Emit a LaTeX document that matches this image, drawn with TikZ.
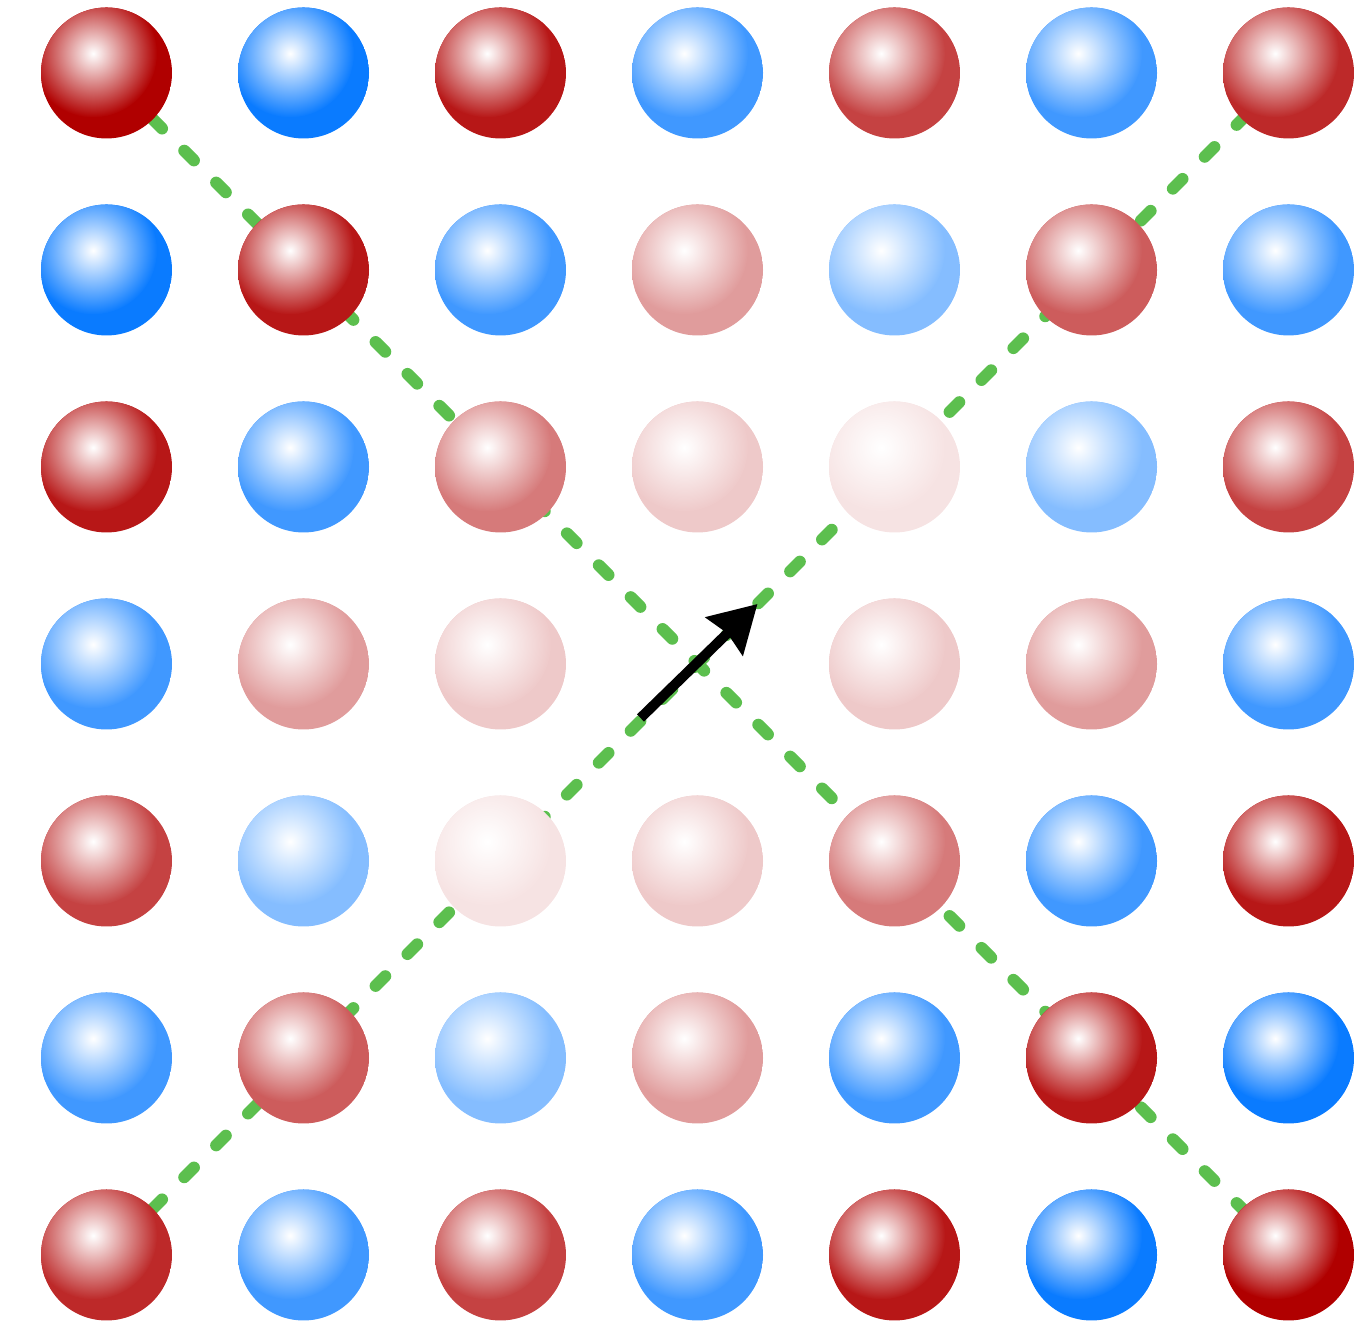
\documentclass[tikz,border=0pt]{standalone}
\usepackage{xcolor}
\usepackage{tikz}
\usetikzlibrary{arrows.meta, calc}
\definecolor{sitered}{HTML}{B00000}
\definecolor{siteblue}{HTML}{0A7BFF}
\definecolor{wallgreen}{HTML}{5CBF4E}
\tikzset{
  wall/.style={
    draw=wallgreen, line width=0.12cm, line cap=round,
    dash pattern=on 0.137cm off 0.314cm, dash phase=0.2535cm,
  },
  shiftarrow/.style={-{Stealth[length=0.46cm, width=0.52cm, inset=0.04cm]}, line width=0.1cm, draw=black},
}

\begin{document}
\begin{tikzpicture}

  \useasboundingbox (0,0) rectangle (13.54,13.26);

  % lattice sites
  \foreach \r in {0,...,6}
    \foreach \c in {0,...,6}
      \coordinate (b-\r-\c) at ({1.065+1.97*\c},{12.53-1.97*\r});

  \draw[wall] (b-0-0) -- (b-6-6);
  \draw[wall] (b-6-0) -- (b-0-6);

  \foreach \r/\c/\col/\amp in {
    0/0/sitered/100, 0/1/siteblue/100, 0/2/sitered/91, 0/3/siteblue/78, 0/4/sitered/74, 0/5/siteblue/78, 0/6/sitered/84,
    1/0/siteblue/100, 1/1/sitered/91, 1/2/siteblue/78, 1/3/sitered/39, 1/4/siteblue/50, 1/5/sitered/64, 1/6/siteblue/78,
    2/0/sitered/91, 2/1/siteblue/78, 2/2/sitered/52, 2/3/sitered/21, 2/4/sitered/11, 2/5/siteblue/50, 2/6/sitered/74,
    3/0/siteblue/78, 3/1/sitered/39, 3/2/sitered/21, 3/4/sitered/21, 3/5/sitered/39, 3/6/siteblue/78,
    4/0/sitered/74, 4/1/siteblue/50, 4/2/sitered/11, 4/3/sitered/21, 4/4/sitered/52, 4/5/siteblue/78, 4/6/sitered/91,
    5/0/siteblue/78, 5/1/sitered/64, 5/2/siteblue/50, 5/3/sitered/39, 5/4/siteblue/78, 5/5/sitered/91, 5/6/siteblue/100,
    6/0/sitered/84, 6/1/siteblue/78, 6/2/sitered/74, 6/3/siteblue/78, 6/4/sitered/91, 6/5/siteblue/100, 6/6/sitered/100}
  {
    \begin{scope}
      \clip (b-\r-\c) circle (0.655);
      \fill[\col!\amp!white] (b-\r-\c) circle (0.66);
      \shade[inner color=white, outer color=\col!\amp!white] ($(b-\r-\c)+(-0.134,0.195)$) circle (0.64);
    \end{scope}
  }

  \coordinate (shift-tail) at ($(b-3-3)+(-0.57,-0.54)$);
  \coordinate (shift-tip) at ($(b-3-3)+(0.60,0.60)$);
  \draw[shiftarrow] (shift-tail) -- (shift-tip);

\end{tikzpicture}
\end{document}
